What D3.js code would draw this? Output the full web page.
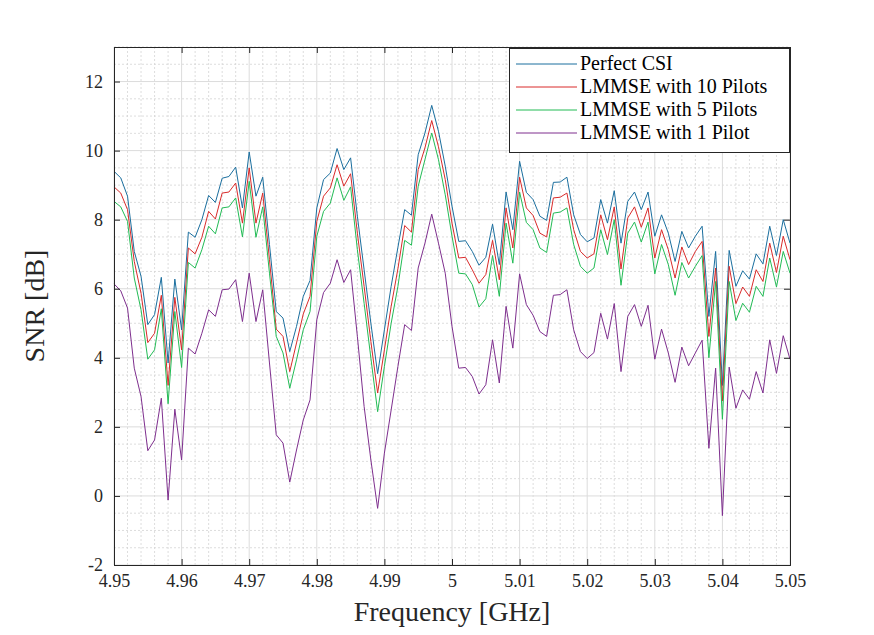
<!DOCTYPE html>
<html lang="en">
<head>
<meta charset="utf-8">
<script src="https://d3js.org/d3.v7.min.js"></script>
<style>
  body { margin: 0; background: #fff; }
  svg { font-family: "Liberation Serif", "DejaVu Serif", serif; }
</style>
</head>
<body>
<script>
// frequency grid: 4.950 .. 5.050 GHz, step 1 MHz
const freqStart = 4.95, freqStep = 0.001;

const perfectCsi = [9.40, 9.21, 8.68, 7.08, 6.36, 4.96, 5.25, 6.33, 3.85, 6.28,
  4.81, 7.64, 7.49, 8.00, 8.70, 8.50, 9.20, 9.25, 9.52, 8.34,
  9.96, 8.68, 9.23, 7.28, 5.34, 5.15, 4.18, 4.91, 5.78, 6.24,
  8.34, 9.16, 9.35, 10.06, 9.45, 9.79, 8.10, 6.55, 5.00, 3.54,
  4.81, 6.07, 7.20, 8.29, 8.13, 9.88, 10.51, 11.31, 10.56, 9.55,
  8.39, 7.37, 7.39, 7.08, 6.68, 6.91, 7.87, 6.70, 8.80, 7.71,
  9.69, 8.79, 8.58, 8.10, 7.98, 9.08, 9.09, 9.23, 8.14, 7.57,
  7.36, 7.47, 8.58, 7.90, 8.84, 7.32, 8.53, 8.80, 8.29, 8.80,
  7.52, 8.14, 7.61, 6.79, 7.66, 7.18, 7.52, 7.81, 5.20, 7.08,
  3.20, 7.11, 6.07, 6.52, 6.28, 7.01, 6.72, 7.81, 6.96, 8.00, 7.32];

const lmmse10 = [8.95, 8.77, 8.29, 6.79, 5.87, 4.44, 4.71, 5.81, 3.20, 5.75,
  4.23, 7.18, 7.01, 7.49, 8.24, 8.02, 8.77, 8.80, 9.06, 7.90,
  9.50, 7.90, 8.77, 6.84, 4.83, 4.62, 3.60, 4.43, 5.27, 5.78,
  7.95, 8.68, 8.92, 9.59, 8.97, 9.33, 7.61, 6.07, 4.47, 2.98,
  4.23, 5.49, 6.58, 7.83, 7.64, 9.45, 10.08, 10.87, 10.11, 9.16,
  7.90, 6.89, 6.91, 6.55, 6.16, 6.41, 7.40, 6.26, 8.34, 7.18,
  9.23, 8.34, 8.12, 7.61, 7.50, 8.63, 8.65, 8.77, 7.71, 7.08,
  6.89, 7.01, 8.14, 7.42, 8.37, 6.57, 8.05, 8.37, 7.78, 8.34,
  6.89, 7.71, 7.13, 6.31, 7.21, 6.70, 7.08, 7.37, 4.62, 6.60,
  2.75, 6.65, 5.57, 6.05, 5.78, 6.55, 6.21, 7.32, 6.47, 7.52, 6.84];

const lmmse5 = [8.53, 8.37, 7.95, 6.31, 5.39, 3.96, 4.23, 5.42, 2.67, 5.34,
  3.72, 6.76, 6.60, 7.13, 7.81, 7.59, 8.34, 8.37, 8.63, 7.50,
  9.11, 7.49, 8.37, 6.45, 4.62, 4.14, 3.12, 3.94, 4.81, 5.34,
  7.52, 8.24, 8.48, 9.21, 8.56, 8.95, 7.13, 5.58, 3.99, 2.44,
  3.75, 5.00, 6.07, 7.40, 7.26, 8.97, 9.74, 10.51, 9.74, 8.72,
  7.52, 6.45, 6.43, 6.12, 5.47, 5.71, 6.96, 5.78, 7.90, 6.74,
  8.80, 7.92, 7.71, 7.18, 7.05, 8.19, 8.22, 8.34, 7.28, 6.65,
  6.45, 6.60, 7.71, 6.99, 8.00, 6.10, 7.61, 7.93, 7.35, 7.93,
  6.43, 7.28, 6.70, 5.81, 6.76, 6.31, 6.65, 6.96, 4.00, 6.21,
  2.22, 6.21, 5.08, 5.58, 5.32, 6.07, 5.78, 6.89, 6.05, 7.08, 6.45];

const lmmse1 = [6.14, 5.94, 5.44, 3.70, 2.88, 1.31, 1.62, 2.83, -0.12, 2.51,
  1.04, 4.28, 4.11, 4.71, 5.39, 5.20, 5.97, 5.99, 6.26, 5.05,
  6.45, 5.05, 5.97, 3.85, 1.77, 1.53, 0.40, 1.33, 2.20, 2.78,
  5.10, 5.89, 6.16, 6.84, 6.18, 6.55, 4.62, 2.59, 1.04, -0.36,
  1.24, 2.49, 3.75, 4.96, 4.79, 6.60, 7.32, 8.16, 7.32, 6.45,
  4.91, 3.70, 3.72, 3.46, 2.95, 3.22, 4.52, 3.27, 5.49, 4.28,
  6.43, 5.54, 5.23, 4.76, 4.62, 5.81, 5.83, 5.97, 4.81, 4.18,
  3.98, 4.15, 5.29, 4.54, 5.57, 3.60, 5.20, 5.54, 4.91, 5.52,
  3.96, 4.83, 4.14, 3.29, 4.31, 3.77, 4.14, 4.51, 1.38, 3.70,
  -0.57, 3.73, 2.54, 3.07, 2.80, 3.60, 2.98, 4.52, 3.55, 4.64, 3.96];

const seriesNames = ["Perfect CSI", "LMMSE with 10 Pilots", "LMMSE with 5 Pilots", "LMMSE with 1 Pilot"];
const seriesColors = ["#1a6e9e", "#d92a2a", "#22bb55", "#7e2f8e"];
const xTicks = [4.95, 4.96, 4.97, 4.98, 4.99, 5.00, 5.01, 5.02, 5.03, 5.04, 5.05];
const yTicks = [-2, 0, 2, 4, 6, 8, 10, 12];

const W = 874, H = 635;
const pL = 114, pR = 790, pT = 47, pB = 565;

const svg = d3.select("body").append("svg").attr("width", W).attr("height", H);

const x = d3.scaleLinear().domain([4.95, 5.05]).range([pL, pR]);
const y = d3.scaleLinear().domain([-2, 13]).range([pB, pT]);

// minor grid (dotted)
const xMinor = d3.range(0, 51).map(i => 4.95 + i * 0.002).filter((d, i) => i % 5 !== 0);
const yMinor = d3.range(0, 31).map(i => -2 + i * 0.5).filter(d => Math.abs(d % 2) > 0.01);
svg.append("g").selectAll("line").data(xMinor).join("line")
  .attr("x1", d => x(d)).attr("x2", d => x(d)).attr("y1", pT).attr("y2", pB)
  .attr("stroke", "#d4d4d4").attr("stroke-width", 0.8).attr("stroke-dasharray", "2,2");
svg.append("g").selectAll("line").data(yMinor).join("line")
  .attr("x1", pL).attr("x2", pR).attr("y1", d => y(d)).attr("y2", d => y(d))
  .attr("stroke", "#d4d4d4").attr("stroke-width", 0.8).attr("stroke-dasharray", "2,2");

// major grid
svg.append("g").selectAll("line").data(xTicks).join("line")
  .attr("x1", d => x(d)).attr("x2", d => x(d)).attr("y1", pT).attr("y2", pB)
  .attr("stroke", "#dcdcdc").attr("stroke-width", 1);
svg.append("g").selectAll("line").data(yTicks).join("line")
  .attr("x1", pL).attr("x2", pR).attr("y1", d => y(d)).attr("y2", d => y(d))
  .attr("stroke", "#dcdcdc").attr("stroke-width", 1);

// data lines
const series = [perfectCsi, lmmse10, lmmse5, lmmse1];
const line = d3.line().x((d, i) => x(freqStart + i * freqStep)).y(d => y(d));
series.forEach((s, k) => {
  svg.append("path").datum(s)
    .attr("fill", "none").attr("stroke", seriesColors[k]).attr("stroke-width", 1)
    .attr("d", line);
});

// axes, MATLAB style: ticks inward, box on
const fmt = d => String(+d.toFixed(2));
const axB = svg.append("g").attr("transform", `translate(0,${pB})`)
  .call(d3.axisBottom(x).tickValues(xTicks).tickSize(-6).tickPadding(9).tickFormat(fmt));
const axT = svg.append("g").attr("transform", `translate(0,${pT})`)
  .call(d3.axisTop(x).tickValues(xTicks).tickSize(-6).tickFormat(""));
const axL = svg.append("g").attr("transform", `translate(${pL},0)`)
  .call(d3.axisLeft(y).tickValues(yTicks).tickSize(-6).tickPadding(11).tickFormat(fmt));
const axR = svg.append("g").attr("transform", `translate(${pR},0)`)
  .call(d3.axisRight(y).tickValues(yTicks).tickSize(-6).tickFormat(""));
[axB, axT, axL, axR].forEach(a => {
  a.select(".domain").attr("stroke", "#262626");
  a.selectAll(".tick line").attr("stroke", "#262626");
  a.selectAll("text").attr("fill", "#262626").style("font-size", "18px")
    .style("font-family", "'Liberation Serif', serif");
});

// axis labels
svg.append("text").attr("x", (pL + pR) / 2).attr("y", 621)
  .attr("text-anchor", "middle").style("font-size", "28px").attr("fill", "#262626")
  .text("Frequency [GHz]");
svg.append("text").attr("transform", `translate(44,${(pT + pB) / 2}) rotate(-90)`)
  .attr("text-anchor", "middle").style("font-size", "28px").attr("fill", "#262626")
  .text("SNR [dB]");

// legend
const lg = svg.append("g");
lg.append("rect").attr("x", 509.5).attr("y", 48.5).attr("width", 280).attr("height", 104)
  .attr("fill", "#fff").attr("stroke", "#262626").attr("stroke-width", 1);
seriesNames.forEach((name, k) => {
  const yy = 64 + k * 23;
  lg.append("line").attr("x1", 516).attr("x2", 577).attr("y1", yy).attr("y2", yy)
    .attr("stroke", seriesColors[k]).attr("stroke-width", 1);
  lg.append("text").attr("x", 580).attr("y", yy + 6).style("font-size", "20px")
    .attr("fill", "#000").text(name);
});
</script>
</body>
</html>
